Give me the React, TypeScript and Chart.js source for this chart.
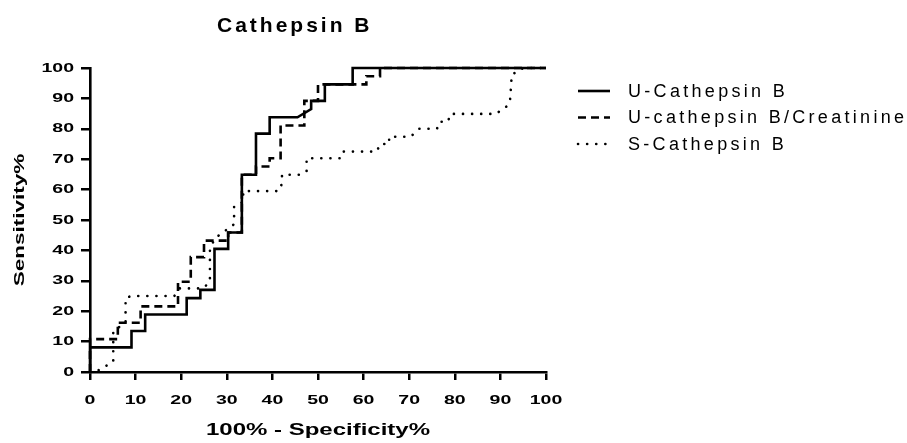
import React, { useEffect, useRef } from "react";
import { Chart, registerables } from "chart.js";

Chart.register(...registerables);

const FONT = '"Liberation Sans", Arial, Helvetica, sans-serif';

const chartTitle = "Cathepsin B";
const xAxisTitle = "100% - Specificity%";
const yAxisTitle = "Sensitivity%";
const xTickValues = [0, 10, 20, 30, 40, 50, 60, 70, 80, 90, 100];
const yTickValues = [0, 10, 20, 30, 40, 50, 60, 70, 80, 90, 100];
const seriesNames = ["U-Cathepsin B", "U-cathepsin B/Creatinine", "S-Cathepsin B"];

// U-Cathepsin B (solid)
const uCathFpr = [0, 0, 9.1, 9.1, 12.1, 12.1, 21.2, 21.2, 24.2, 24.2, 27.3, 27.3, 30.3, 30.3, 33.3, 33.3, 36.4, 36.4, 39.4, 39.4, 45.5, 48.5, 48.5, 51.5, 51.5, 57.6, 57.6, 100];
const uCathSens = [0, 8.1, 8.1, 13.5, 13.5, 18.9, 18.9, 24.3, 24.3, 27.0, 27.0, 40.5, 40.5, 45.9, 45.9, 64.9, 64.9, 78.4, 78.4, 83.8, 83.8, 86.5, 89.2, 89.2, 94.6, 94.6, 100, 100];

// U-cathepsin B/Creatinine (dashed)
const uCreFpr = [0, 0, 6.1, 6.1, 11.1, 11.1, 19.3, 19.3, 22.1, 22.1, 25.0, 25.0, 30.3, 30.3, 33.3, 33.3, 36.4, 36.4, 39.4, 39.4, 41.8, 41.8, 47.0, 47.0, 50.0, 50.0, 60.6, 60.6, 63.6, 63.6, 100];
const uCreSens = [0, 10.8, 10.8, 16.2, 16.2, 21.6, 21.6, 29.7, 29.7, 37.8, 37.8, 43.2, 43.2, 45.9, 45.9, 64.9, 64.9, 67.6, 67.6, 70.3, 70.3, 81.1, 81.1, 89.2, 89.2, 94.6, 94.6, 97.3, 97.3, 100, 100];

// S-Cathepsin B (dotted)
const sCathFpr = [0, 1.2, 5.1, 5.1, 7.8, 7.8, 9.0, 18.5, 19.7, 24.8, 26.3, 26.3, 27.4, 31.6, 31.6, 33.6, 33.6, 41.4, 42.1, 42.1, 46.0, 47.5, 47.5, 54.8, 55.3, 62.9, 63.6, 65.6, 65.6, 70.3, 72.2, 76.1, 76.6, 78.5, 79.0, 89.0, 91.5, 92.1, 92.5, 95.0, 100];
const sCathSens = [0, 0, 3.4, 13.5, 16.2, 24.3, 25.0, 25.0, 27.5, 27.5, 29.7, 40.5, 44.0, 48.6, 54.5, 56.0, 59.5, 59.5, 62.0, 64.9, 64.9, 66.0, 70.3, 70.3, 72.5, 72.5, 75.0, 75.0, 77.4, 77.4, 80.0, 80.0, 82.3, 82.3, 84.9, 84.9, 87.5, 89.0, 97.8, 100, 100];

const toPoints = (xs: number[], ys: number[]) => xs.map((x, i) => ({ x, y: ys[i] }));

// horizontal text stretch used for axis text (the reference text is wide)
const STRETCH = { v: 1.5 };

const stretchPlugin = {
  id: "stretchText",
  beforeInit(chart: any) {
    const ctx = chart.ctx;
    const fill = ctx.fillText.bind(ctx);
    const measure = ctx.measureText.bind(ctx);
    ctx.fillText = (t: string, x: number, y: number, mw?: number) => {
      const k = STRETCH.v;
      if (k === 1) {
        if (mw === undefined) fill(t, x, y);
        else fill(t, x, y, mw);
        return;
      }
      ctx.save();
      ctx.translate(x, y);
      ctx.scale(k, 1);
      if (mw === undefined) fill(t, 0, 0);
      else fill(t, 0, 0, mw / k);
      ctx.restore();
    };
    ctx.measureText = (t: string) => {
      const m = measure(t);
      const k = STRETCH.v;
      if (k === 1) return m;
      return {
        width: m.width * k,
        actualBoundingBoxAscent: m.actualBoundingBoxAscent,
        actualBoundingBoxDescent: m.actualBoundingBoxDescent,
        actualBoundingBoxLeft: m.actualBoundingBoxLeft * k,
        actualBoundingBoxRight: m.actualBoundingBoxRight * k,
        fontBoundingBoxAscent: (m as any).fontBoundingBoxAscent,
        fontBoundingBoxDescent: (m as any).fontBoundingBoxDescent,
      } as any;
    };
  },
};

const titleLegendPlugin = {
  id: "titleLegend",
  afterDraw(chart: any) {
    const ctx = chart.ctx;
    STRETCH.v = 1;
    ctx.save();
    ctx.fillStyle = "#000";
    ctx.font = `bold 21px ${FONT}`;
    (ctx as any).letterSpacing = "3px";
    ctx.textAlign = "left";
    ctx.textBaseline = "alphabetic";
    ctx.fillText(chartTitle, 217, 32);

    ctx.font = `18px ${FONT}`;
    (ctx as any).letterSpacing = "3.3px";
    ctx.textBaseline = "middle";
    chart.data.datasets.forEach((ds: any, i: number) => {
      const y = 91 + i * 26.5;
      ctx.save();
      ctx.strokeStyle = ds.borderColor;
      ctx.lineWidth = ds.borderWidth;
      ctx.lineCap = ds.borderCapStyle || "butt";
      ctx.setLineDash(ds.borderDash || []);
      ctx.beginPath();
      ctx.moveTo(578, y);
      ctx.lineTo(610, y);
      ctx.stroke();
      ctx.restore();
      ctx.fillText(ds.label, 628, y + 1);
    });
    (ctx as any).letterSpacing = "0px";
    ctx.restore();
    STRETCH.v = 1.5;
  },
};

export default function App() {
  const canvasRef = useRef<HTMLCanvasElement | null>(null);

  useEffect(() => {
    document.body.style.margin = "0";
    const canvas = canvasRef.current;
    if (!canvas) return;
    const axisFont = { family: FONT, size: 13, weight: "bold" as const };
    const xTitleFont = { family: FONT, size: 16, weight: "bold" as const };
    const yTitleFont = { family: FONT, size: 15, weight: "bold" as const };
    const chart = new Chart(canvas, {
      type: "scatter",
      data: {
        datasets: [
          {
            label: seriesNames[0],
            data: toPoints(uCathFpr, uCathSens),
            showLine: true,
            borderColor: "#000",
            backgroundColor: "#000",
            borderWidth: 2.6,
            pointRadius: 0,
            tension: 0,
            clip: 4,
          },
          {
            label: seriesNames[1],
            data: toPoints(uCreFpr, uCreSens),
            showLine: true,
            borderColor: "#000",
            backgroundColor: "#000",
            borderWidth: 2.6,
            borderDash: [8, 5],
            pointRadius: 0,
            tension: 0,
            clip: 4,
          },
          {
            label: seriesNames[2],
            data: toPoints(sCathFpr, sCathSens),
            showLine: true,
            borderColor: "#000",
            backgroundColor: "#000",
            borderWidth: 2.6,
            borderDash: [0.1, 9],
            borderCapStyle: "round",
            pointRadius: 0,
            tension: 0,
            clip: 4,
          },
        ] as any,
      },
      options: {
        animation: false,
        responsive: false,
        devicePixelRatio: 1,
        layout: { padding: { top: 68, right: 361, left: 0, bottom: 0 } },
        plugins: {
          legend: { display: false },
          title: { display: false },
          tooltip: { enabled: false },
        },
        scales: {
          x: {
            type: "linear",
            position: "bottom",
            min: 0,
            max: 100,
            afterFit: (s: any) => {
              s.height = 71;
            },
            afterBuildTicks: (s: any) => {
              s.ticks = xTickValues.map((v) => ({ value: v }));
            },
            ticks: { color: "#000", font: axisFont, padding: 13, maxRotation: 0, autoSkip: false },
            grid: { drawOnChartArea: false, drawTicks: true, tickLength: 8, color: "#000", lineWidth: 2.5 },
            border: { display: true, color: "#000", width: 2.6 },
            title: { display: true, text: xAxisTitle, color: "#000", font: xTitleFont, padding: { top: 0, bottom: 3 } },
          },
          y: {
            type: "linear",
            position: "left",
            min: 0,
            max: 100,
            afterFit: (s: any) => {
              s.width = 90;
            },
            afterBuildTicks: (s: any) => {
              s.ticks = yTickValues.map((v) => ({ value: v }));
            },
            ticks: { color: "#000", font: axisFont, padding: 7, autoSkip: false },
            grid: { drawOnChartArea: false, drawTicks: true, tickLength: 9, color: "#000", lineWidth: 2.5 },
            border: { display: true, color: "#000", width: 2.6 },
            title: { display: true, text: yAxisTitle, color: "#000", font: yTitleFont, padding: { top: 11, bottom: 0 } },
          },
        },
      } as any,
      plugins: [stretchPlugin, titleLegendPlugin],
    });
    return () => chart.destroy();
  }, []);

  return (
    <div style={{ width: 907, height: 443 }}>
      <canvas ref={canvasRef} width={907} height={443} style={{ display: "block" }} />
    </div>
  );
}
